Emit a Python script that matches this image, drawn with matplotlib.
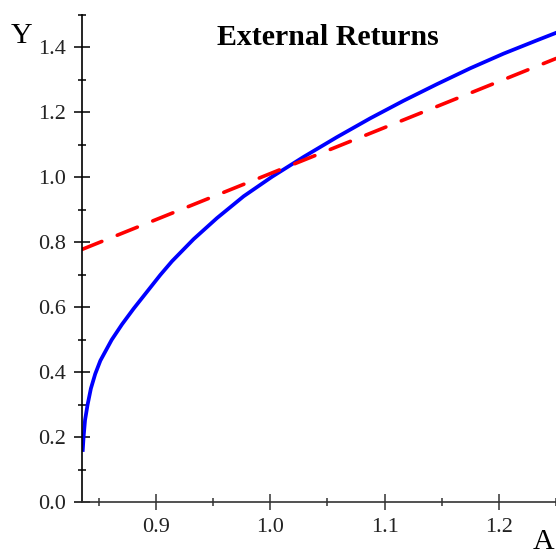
import matplotlib
matplotlib.use('Agg')
import matplotlib.pyplot as plt
from matplotlib.ticker import MultipleLocator

# values
a_blue = [0.8359, 0.8366, 0.8379, 0.8401, 0.8430, 0.8468, 0.8513, 0.8612, 0.8703,
          0.8804, 0.9038, 0.914, 0.9329, 0.9534, 0.9767, 1.0015, 1.0291, 1.0583,
          1.0875, 1.1166, 1.1458, 1.175, 1.2041, 1.2333, 1.25]
y_blue = [0.161, 0.2, 0.253, 0.3, 0.35, 0.395, 0.436, 0.5, 0.548,
          0.596, 0.7, 0.742, 0.81, 0.875, 0.942, 1.002, 1.063, 1.124,
          1.182, 1.236, 1.287, 1.336, 1.381, 1.422, 1.445]
a_red = [0.835, 1.25]
y_red = [0.778, 1.366]

title = 'External Returns'
xlabel = 'A'
ylabel = 'Y'

plt.rcParams['font.family'] = ['Liberation Serif', 'DejaVu Serif']

fig = plt.figure(figsize=(5.56, 5.55), dpi=100)
ax = fig.add_axes([0.147, 0.095, 0.853, 0.878])

ax.plot(a_blue, y_blue, color='#0000ff', lw=2.7, solid_joinstyle='round')
ax.plot(a_red, y_red, color='#ff0000', lw=2.6, dashes=(6, 4.6), dash_capstyle='round')

ax.set_xlim(0.835, 1.25)
ax.set_ylim(0, 1.5)

for s in ['top', 'right']:
    ax.spines[s].set_visible(False)
ax.spines['left'].set_linewidth(1.2)
ax.spines['bottom'].set_linewidth(1.2)
ax.spines['bottom'].set_color('#333333')

ax.xaxis.set_major_locator(MultipleLocator(0.1))
ax.xaxis.set_minor_locator(MultipleLocator(0.05))
ax.yaxis.set_major_locator(MultipleLocator(0.2))
ax.yaxis.set_minor_locator(MultipleLocator(0.1))
ax.set_xticks([0.9, 1.0, 1.1, 1.2])
ax.xaxis.set_major_formatter(plt.FuncFormatter(lambda v, p: '%.1f' % v))
ax.yaxis.set_major_formatter(plt.FuncFormatter(lambda v, p: '%.1f' % v))

ax.tick_params(which='major', direction='inout', length=12, width=1.1,
               labelsize=16, labelcolor='#222222', pad=5)
ax.tick_params(which='minor', direction='inout', length=5.5, width=1.1)
ax.tick_params(axis='x', which='both', color='#333333')

fig.text(0.59, 0.932, title, fontsize=21.5, fontweight='bold', ha='center', va='center')
fig.text(0.038, 0.935, ylabel, fontsize=21.5, ha='center', va='center')
fig.text(0.978, 0.0, xlabel, fontsize=21.5, ha='center', va='bottom')

fig.savefig('out.png', dpi=100)
